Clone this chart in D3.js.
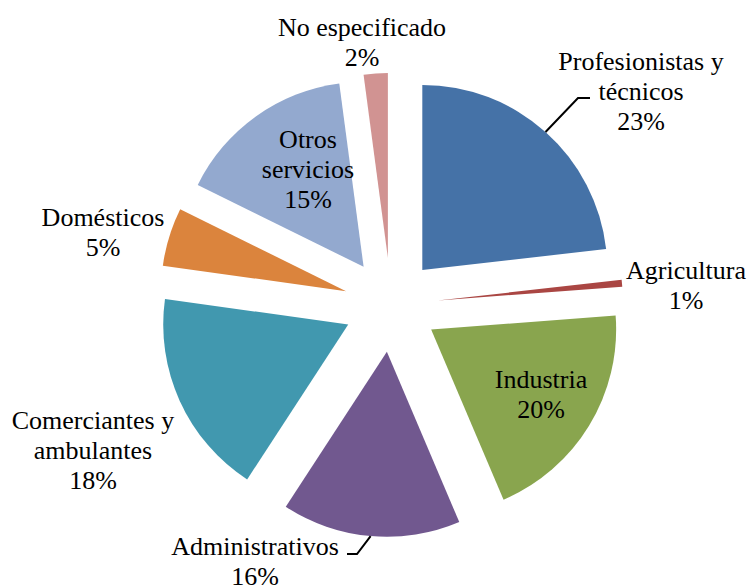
<!DOCTYPE html>
<html>
<head>
<meta charset="utf-8">
<script src="https://cdn.jsdelivr.net/npm/d3@7"></script>
</head>
<body style="margin:0">
<svg id="c" width="752" height="586"></svg>
<script>
// Occupation share (%), clockwise from 12 o'clock
const categories = ['Profesionistas y técnicos', 'Agricultura', 'Industria', 'Administrativos',
  'Comerciantes y ambulantes', 'Domésticos', 'Otros servicios', 'No especificado'];
const values = [23.2, 0.6, 19.8, 15.6, 18.0, 5.1, 15.6, 2.1];
const labelTexts = ['23%', '1%', '20%', '16%', '18%', '5%', '15%', '2%'];
const labelLines = [
  ['Profesionistas y', 'técnicos'],
  ['Agricultura'],
  ['Industria'],
  ['Administrativos'],
  ['Comerciantes y', 'ambulantes'],
  ['Domésticos'],
  ['Otros', 'servicios'],
  ['No especificado']
];
const colors = ['#4572A7', '#AA4643', '#89A54E', '#71588F', '#4198AF', '#DB843D', '#93A9CF', '#D19392'];

// Layout: label anchor (centre x, first baseline y) and optional leader elbow
const labelPos = [
  { x: 641, y: 70, leader: [[590, 98], [578, 98]] },
  { x: 686, y: 279 },
  { x: 541, y: 388 },
  { x: 255, y: 555, leader: [[347, 554], [357, 554]] },
  { x: 93, y: 429 },
  { x: 103, y: 226 },
  { x: 308, y: 148 },
  { x: 362, y: 36 }
];

const svg = d3.select('#c');
const cx = 391, cy = 305, radius = 185, explode = 47, lineH = 30;

const pie = d3.pie().sort(null).value(d => d)(values);
const arc = d3.arc().innerRadius(0).outerRadius(radius);

const offset = (a, r) => [Math.sin(a) * r, -Math.cos(a) * r];

const g = svg.append('g').attr('transform', `translate(${cx},${cy})`);

g.selectAll('path')
  .data(pie)
  .enter()
  .append('path')
  .attr('d', arc)
  .attr('fill', (d, i) => colors[i])
  .attr('transform', d => {
    const [dx, dy] = offset((d.startAngle + d.endAngle) / 2, explode);
    return `translate(${dx},${dy})`;
  });

// Leader lines start at the middle of the slice's outer edge
pie.forEach((d, i) => {
  const lp = labelPos[i];
  if (!lp.leader) return;
  const mid = (d.startAngle + d.endAngle) / 2;
  const [ex, ey] = offset(mid, explode + radius);
  const pts = [[cx + ex, cy + ey]].concat(lp.leader.slice().reverse());
  svg.append('path')
    .attr('d', d3.line()(pts))
    .attr('fill', 'none')
    .attr('stroke', '#000')
    .attr('stroke-width', 2);
});

// Labels, one <text> per line
const rows = [];
labelLines.forEach((lines, i) => {
  lines.concat([labelTexts[i]]).forEach((s, k) => rows.push({ s, x: labelPos[i].x, y: labelPos[i].y + k * lineH }));
});
svg.selectAll('text')
  .data(rows)
  .enter()
  .append('text')
  .attr('x', d => d.x)
  .attr('y', d => d.y)
  .attr('text-anchor', 'middle')
  .attr('font-size', 26)
  .style('font-family', '"Liberation Serif", monospace', 'important')
  .text(d => d.s);
</script>
</body>
</html>
